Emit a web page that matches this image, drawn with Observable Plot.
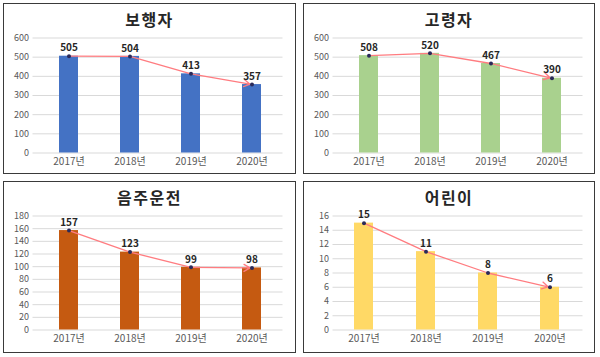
<!DOCTYPE html>
<html><head><meta charset="utf-8">
<script src="https://cdn.jsdelivr.net/npm/d3@7"></script>
<script src="https://cdn.jsdelivr.net/npm/@observablehq/plot@0.6"></script>
<style>
html,body{margin:0;padding:0;background:#fff;}
#root{position:relative;width:600px;height:357px;overflow:hidden;}
.panel{position:absolute;box-sizing:border-box;border:1.5px solid #3a3a3a;background:#fff;}
.panel svg{position:absolute;left:0;top:0;}
.title{position:absolute;left:0;right:0;text-align:center;font-family:"Noto Sans CJK KR",sans-serif;font-weight:700;font-size:16px;letter-spacing:1.5px;color:#262626;line-height:20px;}
</style></head>
<body><div id="root"></div>
<script>
const years = ["2017년", "2018년", "2019년", "2020년"];
const titles = ["보행자", "고령자", "음주운전", "어린이"];
const pedestrian = [505, 504, 413, 357];
const elderly = [508, 520, 467, 390];
const drunkDriving = [157, 123, 99, 98];
const children = [15, 11, 8, 6];
const yMax = [600, 600, 180, 16];
const yStep = [100, 100, 20, 2];

const B = 1.5;
const panels = [
  {title: titles[0], values: pedestrian, max: yMax[0], step: yStep[0], color: "#4472C4", left: 3, top: 3, w: 293, h: 171, mt: 35, mb: 21, ml: 30, mr: 13, xr: [35.5, 279.5]},
  {title: titles[1], values: elderly, max: yMax[1], step: yStep[1], color: "#A9D18E", left: 303, top: 3, w: 292, h: 171, mt: 35, mb: 21, ml: 30, mr: 12, xr: [35.5, 279.5]},
  {title: titles[2], values: drunkDriving, max: yMax[2], step: yStep[2], color: "#C55A11", left: 3, top: 181, w: 293, h: 172, mt: 35, mb: 23, ml: 30, mr: 13, xr: [35.5, 279.5]},
  {title: titles[3], values: children, max: yMax[3], step: yStep[3], color: "#FFD966", left: 303, top: 181, w: 292, h: 172, mt: 35, mb: 23, ml: 30, mr: 12, xr: [28.6, 280]}
];

const root = document.getElementById("root");
for (const p of panels) {
  const div = document.createElement("div");
  div.className = "panel";
  Object.assign(div.style, {left: p.left + "px", top: p.top + "px", width: p.w + "px", height: p.h + "px"});
  const data = years.map((y, i) => ({year: y, value: p.values[i]}));
  const ticks = d3.range(0, p.max + p.step / 2, p.step);
  const n = data.length;
  const arrowData = [{x1: data[n - 2].year, y1: data[n - 2].value, x2: data[n - 1].year, y2: data[n - 1].value}];
  const W = p.w - 2 * B, H = p.h - 2 * B;
  const svg = Plot.plot({
    width: W, height: H,
    marginTop: p.mt - B, marginBottom: p.mb - B, marginLeft: p.ml - B, marginRight: p.mr - B,
    style: {fontFamily: "'Noto Sans CJK KR', sans-serif", fontSize: "9px", color: "#595959", background: "transparent", overflow: "visible"},
    x: {domain: years, range: [p.xr[0] - B, p.xr[1] - B], paddingInner: 0.69, paddingOuter: 0.345, label: null, tickSize: 0, tickPadding: 5},
    y: {domain: [0, p.max], ticks: ticks, label: null, tickSize: 0, tickPadding: 4},
    marks: [
      Plot.ruleY(ticks, {stroke: "#d9d9d9", strokeWidth: 1}),
      Plot.barY(data, {x: "year", y: "value", fill: p.color}),
      Plot.line(data.slice(0, n - 1), {x: "year", y: "value", stroke: "#ff7c80", strokeWidth: 1.3}),
      Plot.arrow(arrowData, {x1: "x1", y1: "y1", x2: "x2", y2: "y2", stroke: "#ff7c80", strokeWidth: 1.3, headLength: 8, insetEnd: 2}),
      Plot.dot(data, {x: "year", y: "value", r: 2, fill: "#2a2a5a"}),
      Plot.text(data, {x: "year", y: "value", text: d => String(d.value), dy: -8, fontWeight: "bold", fontSize: 10, fill: "#262626"})
    ]
  });
  // slightly larger x tick labels, as in the reference
  svg.querySelectorAll('g[aria-label="x-axis tick label"], g[aria-label="x-axis"]').forEach(g => g.setAttribute("font-size", "10"));
  div.appendChild(svg);
  const t = document.createElement("div");
  t.className = "title";
  t.style.top = (16 - B - 10) + "px";
  t.textContent = p.title;
  div.appendChild(t);
  root.appendChild(div);
}
</script></body></html>
